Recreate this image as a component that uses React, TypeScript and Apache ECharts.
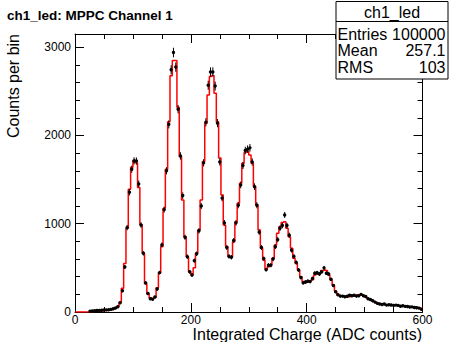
import React, { useEffect, useRef } from "react";
import * as echarts from "echarts";

const BIN_WIDTH = 4;
const X_MIN = 0;
const X_MAX = 600;
const Y_MAX = 3150;
const X_TICKS = [0, 200, 400, 600];
const Y_TICKS = [0, 1000, 2000, 3000];

// Red histogram (bin contents, 4-unit bins from 0 to 600)
const redCounts = [
  0, 0, 0, 0, 0, 0, 2, 5, 8, 10,
  12, 14, 16, 18, 22, 26, 34, 45, 62, 110,
  270, 550, 950, 1390, 1640, 1720, 1690, 1410, 990, 665,
  320, 205, 162, 150, 165, 276, 446, 741, 1175, 1618,
  2157, 2676, 2850, 2850, 2320, 1761, 1270, 854, 627, 457,
  420, 500, 665, 930, 1270, 1705, 2139, 2460, 2668, 2680,
  2480, 2157, 1746, 1326, 986, 741, 627, 620, 797, 1024,
  1232, 1459, 1686, 1806, 1820, 1780, 1686, 1421, 1213, 930,
  722, 590, 484, 514, 533, 609, 760, 892, 967, 1013,
  1024, 949, 854, 722, 609, 552, 476, 400, 345, 335,
  340, 350, 365, 420, 430, 440, 470, 475, 468, 420,
  365, 306, 231, 193, 185, 175, 172, 170, 175, 180,
  190, 195, 195, 192, 185, 170, 150, 140, 128, 115,
  100, 92, 88, 85, 80, 80, 80, 78, 76, 72,
  70, 68, 66, 62, 58, 55, 52, 50, 45, 40,
];

// Black data points (null = no marker)
const dataCounts: (number | null)[] = [
  null, null, null, null, null, null, 8, 12, 14, 16,
  18, 20, 22, 24, 26, 30, 36, 45, 60, 105,
  240, 510, 956, 1357, 1618, 1712, 1710, 1451, 986, 665,
  330, 210, 150, 145, 170, 260, 446, 760, 1160, 1600,
  2126, 2744, 2940, 2775, 2298, 1768, 1319, 847, 627, 455,
  420, 582, 660, 920, 1200, 1690, 2150, 2570, 2720, 2720,
  2560, 2140, 1700, 1290, 1010, 730, 630, 620, 810, 1010,
  1210, 1440, 1660, 1830, 1845, 1860, 1700, 1420, 1210, 905,
  730, 605, 480, 530, 530, 600, 740, 820, 950, 980,
  1100, 980, 870, 700, 630, 560, 476, 390, 330, 340,
  350, 345, 380, 440, 445, 430, 455, 500, 440, 430,
  370, 300, 230, 195, 180, 180, 172, 178, 190, 185,
  190, 180, 185, 200, 185, 175, 150, 142, 128, 112,
  98, 90, 86, 90, 78, 82, 80, 75, 78, 75,
  66, 70, 64, 62, 57, 58, 50, 48, 44, 30,
];

const TITLE = "ch1_led: MPPC Channel 1";
const X_TITLE = "Integrated Charge (ADC counts)";
const Y_TITLE = "Counts per bin";
const STATS_NAME = "ch1_led";
const STATS_LABELS = ["Entries", "Mean", "RMS"];
const STATS_VALUES = ["100000", "257.1", "103"];

const FONT = "'Liberation Sans', Arial, Helvetica, sans-serif";

export default function App() {
  const ref = useRef<HTMLDivElement>(null);

  useEffect(() => {
    if (!ref.current) return;
    const chart = echarts.init(ref.current, undefined, { renderer: "svg" });

    const stepData: [number, number][] = redCounts.map((v, i) => [X_MIN + i * BIN_WIDTH, v]);
    stepData.push([X_MAX, redCounts[redCounts.length - 1]]);

    const pointData: [number, number, number][] = [];
    dataCounts.forEach((v, i) => {
      if (v === null) return;
      pointData.push([X_MIN + (i + 0.5) * BIN_WIDTH, v, Math.sqrt(v)]);
    });

    const tickStyle = { color: "#000", width: 1 };
    const baseX = {
      type: "value" as const,
      min: X_MIN,
      max: X_MAX,
      interval: 200,
      splitLine: { show: false },
      axisLine: { show: true, onZero: false, lineStyle: { color: "#000", width: 1 } },
      axisTick: { show: true, inside: true, length: 9, lineStyle: tickStyle },
      minorTick: { show: true, splitNumber: 4, length: 5, lineStyle: tickStyle },
      minorSplitLine: { show: false },
    };
    const baseY = {
      type: "value" as const,
      min: 0,
      max: Y_MAX,
      interval: 1000,
      splitLine: { show: false },
      axisLine: { show: true, onZero: false, lineStyle: { color: "#000", width: 1 } },
      axisTick: { show: true, inside: true, length: 9, lineStyle: tickStyle },
      minorTick: { show: true, splitNumber: 5, length: 5, lineStyle: tickStyle },
      minorSplitLine: { show: false },
    };

    const statsLeft = 336;
    const statsRight = 448;
    const statsTop = 1.5;
    const statsBottom = 79;
    const rowY = [34.5, 50.5, 67];
    const statsFont = `16px ${FONT}`;

    chart.setOption({
      animation: false,
      backgroundColor: "#fff",
      textStyle: { fontFamily: FONT },
      grid: { left: 75, right: 27.5, top: 34, bottom: 30, containLabel: false },
      xAxis: [
        {
          ...baseX,
          position: "bottom",
          axisLabel: {
            show: true,
            color: "#000",
            fontSize: 12,
            lineHeight: 12,
            fontFamily: FONT,
            margin: 1.5,
            formatter: (v: number) => (X_TICKS.includes(v) ? String(v) : ""),
          },
        },
        { ...baseX, position: "top", axisLabel: { show: false } },
      ],
      yAxis: [
        {
          ...baseY,
          position: "left",
          axisLabel: {
            show: true,
            color: "#000",
            fontSize: 12,
            fontFamily: FONT,
            margin: 4,
            formatter: (v: number) => (Y_TICKS.includes(v) ? String(v) : ""),
          },
        },
        { ...baseY, position: "right", axisLabel: { show: false } },
      ],
      series: [
        {
          type: "line",
          step: "end",
          data: stepData,
          showSymbol: false,
          symbol: "none",
          lineStyle: { color: "#ff0000", width: 1.5 },
          xAxisIndex: 0,
          yAxisIndex: 0,
          z: 2,
        },
        {
          type: "custom",
          xAxisIndex: 0,
          yAxisIndex: 0,
          z: 3,
          data: pointData,
          renderItem: (_params: any, api: any) => {
            const x = api.value(0);
            const y = api.value(1);
            const e = api.value(2);
            const c = api.coord([x, y]);
            const lo = api.coord([x, y - e]);
            const hi = api.coord([x, y + e]);
            return {
              type: "group",
              children: [
                {
                  type: "line",
                  shape: { x1: c[0], y1: lo[1], x2: c[0], y2: hi[1] },
                  style: { stroke: "#000", lineWidth: 1 },
                },
                {
                  type: "circle",
                  shape: { cx: c[0], cy: c[1], r: 1.7 },
                  style: { fill: "#000" },
                },
              ],
            };
          },
        },
      ],
      graphic: [
        {
          type: "text",
          left: 7,
          top: 8,
          style: { text: TITLE, font: `bold 13.5px ${FONT}`, fill: "#000" },
        },
        {
          type: "text",
          x: 422,
          y: 334.5,
          style: {
            text: X_TITLE,
            font: `16px ${FONT}`,
            lineHeight: 14,
            fill: "#000",
            align: "right",
            verticalAlign: "middle",
          },
        },
        {
          type: "text",
          x: 13,
          y: 34,
          rotation: Math.PI / 2,
          style: { text: Y_TITLE, font: `16px ${FONT}`, fill: "#000", align: "right", verticalAlign: "middle" },
        },
        {
          type: "rect",
          shape: { x: statsLeft, y: statsTop, width: statsRight - statsLeft, height: statsBottom - statsTop },
          style: { fill: "#fff", stroke: "#000", lineWidth: 1 },
          z: 10,
        },
        {
          type: "line",
          shape: { x1: statsLeft, y1: 21.5, x2: statsRight, y2: 21.5 },
          style: { stroke: "#000", lineWidth: 1 },
          z: 11,
        },
        {
          type: "text",
          x: (statsLeft + statsRight) / 2,
          y: 12,
          z: 11,
          style: { text: STATS_NAME, font: statsFont, fill: "#000", align: "center", verticalAlign: "middle" },
        },
        ...STATS_LABELS.map((t, i) => ({
          type: "text",
          x: statsLeft + 1.5,
          y: rowY[i],
          z: 11,
          style: { text: t, font: statsFont, fill: "#000", align: "left", verticalAlign: "middle" },
        })),
        ...STATS_VALUES.map((t, i) => ({
          type: "text",
          x: statsRight - 2.5,
          y: rowY[i],
          z: 11,
          style: { text: t, font: statsFont, fill: "#000", align: "right", verticalAlign: "middle" },
        })),
      ],
    });

    return () => chart.dispose();
  }, []);

  return (
    <div
      ref={ref}
      style={{ position: "absolute", left: 0, top: 0, width: 450, height: 342, background: "#fff" }}
    />
  );
}
